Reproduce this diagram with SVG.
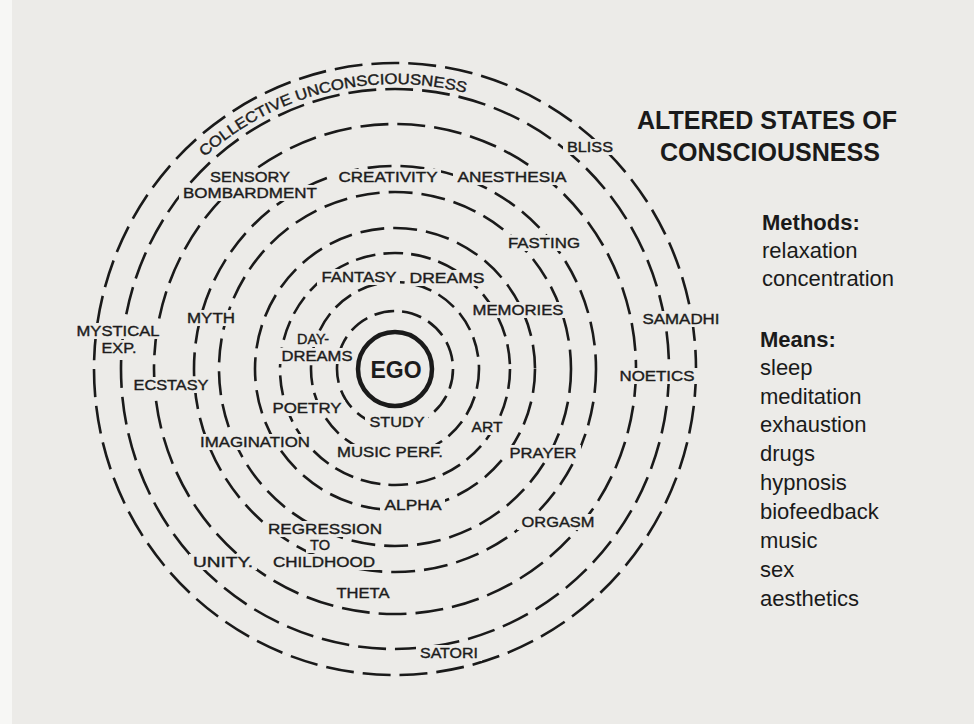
<svg xmlns="http://www.w3.org/2000/svg" width="974" height="724" viewBox="0 0 974 724">
<defs>
<style>
.bg{fill:#ecebe8}
.ring{fill:none;stroke:#1a1a1a;stroke-width:2.6;stroke-linecap:butt}
.in{stroke-dasharray:20 8}
.mid{stroke-dasharray:24 9}
.out{stroke-dasharray:28 9}
.lbl{font-family:"Liberation Sans",Arial,Helvetica,sans-serif;font-size:15.5px;fill:#1c1c1c;stroke:#1c1c1c;stroke-width:0.4;text-anchor:middle}
.ego{font-family:"Liberation Sans",Arial,Helvetica,sans-serif;font-size:23px;font-weight:bold;fill:#1c1c1c;text-anchor:middle}
.title{font-family:"Liberation Sans",Arial,Helvetica,sans-serif;font-size:25px;font-weight:bold;fill:#1a1a1a;text-anchor:middle}
.head{font-family:"Liberation Sans",Arial,Helvetica,sans-serif;font-size:22px;font-weight:bold;fill:#1a1a1a}
.item{font-family:"Liberation Sans",Arial,Helvetica,sans-serif;font-size:22px;fill:#1a1a1a}
</style>
<path id="arcCU" d="M176.7,185.8 A285,285 0 0,1 578.2,150.7"/>
<mask id="gaps" maskUnits="userSpaceOnUse" x="0" y="0" width="974" height="724">
<rect x="0" y="0" width="974" height="724" fill="#fff"/>
<g fill="#000">
<rect x="206" y="169" width="88" height="16"/>
<rect x="179" y="185" width="142" height="16"/>
<rect x="334" y="169" width="107" height="16"/>
<rect x="453" y="169" width="117" height="16"/>
<rect x="563" y="139" width="54" height="16"/>
<rect x="504" y="235" width="80" height="16"/>
<rect x="317" y="269" width="83" height="16"/>
<rect x="405" y="270" width="83" height="16"/>
<rect x="468" y="302" width="99" height="16"/>
<rect x="638" y="311" width="87" height="16"/>
<rect x="183" y="310" width="56" height="16"/>
<rect x="72" y="323" width="91" height="16"/>
<rect x="97" y="340" width="43" height="16"/>
<rect x="293" y="331" width="39" height="16"/>
<rect x="277" y="348" width="79" height="16"/>
<rect x="129" y="377" width="83" height="16"/>
<rect x="615" y="368" width="83" height="16"/>
<rect x="268" y="400" width="77" height="16"/>
<rect x="365" y="414" width="63" height="16"/>
<rect x="467" y="419" width="39" height="16"/>
<rect x="196" y="434" width="118" height="16"/>
<rect x="333" y="444" width="114" height="16"/>
<rect x="505" y="445" width="76" height="16"/>
<rect x="380" y="497" width="65" height="16"/>
<rect x="517" y="514" width="81" height="16"/>
<rect x="264" y="521" width="122" height="16"/>
<rect x="306" y="538" width="28" height="15"/>
<rect x="189" y="554" width="68" height="16"/>
<rect x="269" y="554" width="110" height="16"/>
<rect x="332" y="585" width="62" height="16"/>
<rect x="416" y="645" width="66" height="16"/>
</g>
</mask>
</defs>
<rect class="bg" x="0" y="0" width="974" height="724"/>
<rect x="0" y="0" width="12" height="724" fill="#f7f7f5"/>

<g id="rings" mask="url(#gaps)">
<ellipse class="ring in" cx="395" cy="369" rx="58" ry="58"/>
<ellipse class="ring in" cx="395" cy="369" rx="84" ry="87"/>
<ellipse class="ring in" cx="395" cy="369" rx="115" ry="116"/>
<ellipse class="ring mid" cx="395" cy="369" rx="140" ry="141"/>
<ellipse class="ring mid" cx="395" cy="369" rx="176" ry="177"/>
<ellipse class="ring mid" cx="395" cy="369" rx="201" ry="203"/>
<ellipse class="ring out" cx="395" cy="369" rx="241" ry="245"/>
<ellipse class="ring out" cx="395" cy="369" rx="274" ry="280"/>
<ellipse class="ring out" cx="395" cy="369" rx="301" ry="306"/>
</g>

<g id="ego">
<circle cx="395" cy="369" r="37" fill="#ecebe8" stroke="#1a1a1a" stroke-width="4.5"/>
<text class="ego" x="396" y="378">EGO</text>
</g>

<g id="collective"><text class="lbl" style="text-anchor:start;font-size:15px"><textPath href="#arcCU" startOffset="40" textLength="280" lengthAdjust="spacingAndGlyphs">COLLECTIVE UNCONSCIOUSNESS</textPath></text></g>
<g id="sensory"><text class="lbl" x="250" y="182" textLength="80" lengthAdjust="spacingAndGlyphs">SENSORY</text><text class="lbl" x="250" y="198" textLength="134" lengthAdjust="spacingAndGlyphs">BOMBARDMENT</text></g>
<g id="creativity"><text class="lbl" x="388" y="182" textLength="99" lengthAdjust="spacingAndGlyphs">CREATIVITY</text></g>
<g id="anesthesia"><text class="lbl" x="512" y="182" textLength="109" lengthAdjust="spacingAndGlyphs">ANESTHESIA</text></g>
<g id="bliss"><text class="lbl" x="590" y="152" textLength="46" lengthAdjust="spacingAndGlyphs">BLISS</text></g>
<g id="fasting"><text class="lbl" x="544" y="248" textLength="72" lengthAdjust="spacingAndGlyphs">FASTING</text></g>
<g id="fantasy"><text class="lbl" x="359" y="282" textLength="75" lengthAdjust="spacingAndGlyphs">FANTASY</text></g>
<g id="dreams"><text class="lbl" x="447" y="283" textLength="75" lengthAdjust="spacingAndGlyphs">DREAMS</text></g>
<g id="memories"><text class="lbl" x="518" y="315" textLength="91" lengthAdjust="spacingAndGlyphs">MEMORIES</text></g>
<g id="samadhi"><text class="lbl" x="681" y="324" textLength="77" lengthAdjust="spacingAndGlyphs">SAMADHI</text></g>
<g id="myth"><text class="lbl" x="211" y="323" textLength="48" lengthAdjust="spacingAndGlyphs">MYTH</text></g>
<g id="mystical"><text class="lbl" x="118" y="336" textLength="83" lengthAdjust="spacingAndGlyphs">MYSTICAL</text><text class="lbl" x="119" y="353" textLength="35" lengthAdjust="spacingAndGlyphs">EXP.</text></g>
<g id="daydreams"><text class="lbl" x="313" y="344" textLength="32" lengthAdjust="spacingAndGlyphs">DAY-</text><text class="lbl" x="317" y="361" textLength="71" lengthAdjust="spacingAndGlyphs">DREAMS</text></g>
<g id="ecstasy"><text class="lbl" x="171" y="390" textLength="75" lengthAdjust="spacingAndGlyphs">ECSTASY</text></g>
<g id="noetics"><text class="lbl" x="657" y="381" textLength="75" lengthAdjust="spacingAndGlyphs">NOETICS</text></g>
<g id="poetry"><text class="lbl" x="307" y="413" textLength="69" lengthAdjust="spacingAndGlyphs">POETRY</text></g>
<g id="study"><text class="lbl" x="397" y="427" textLength="55" lengthAdjust="spacingAndGlyphs">STUDY</text></g>
<g id="art"><text class="lbl" x="487" y="432" textLength="31" lengthAdjust="spacingAndGlyphs">ART</text></g>
<g id="imagination"><text class="lbl" x="255" y="447" textLength="110" lengthAdjust="spacingAndGlyphs">IMAGINATION</text></g>
<g id="musicperf"><text class="lbl" x="390" y="457" textLength="106" lengthAdjust="spacingAndGlyphs">MUSIC PERF.</text></g>
<g id="prayer"><text class="lbl" x="543" y="458" textLength="67" lengthAdjust="spacingAndGlyphs">PRAYER</text></g>
<g id="alpha"><text class="lbl" x="413" y="510" textLength="57" lengthAdjust="spacingAndGlyphs">ALPHA</text></g>
<g id="orgasm"><text class="lbl" x="558" y="527" textLength="73" lengthAdjust="spacingAndGlyphs">ORGASM</text></g>
<g id="regression"><text class="lbl" x="325" y="534" textLength="114" lengthAdjust="spacingAndGlyphs">REGRESSION</text><text class="lbl" x="320" y="550" textLength="20" lengthAdjust="spacingAndGlyphs">TO</text><text class="lbl" x="324" y="567" textLength="102" lengthAdjust="spacingAndGlyphs">CHILDHOOD</text></g>
<g id="unity"><text class="lbl" x="223" y="567" textLength="60" lengthAdjust="spacingAndGlyphs">UNITY.</text></g>
<g id="theta"><text class="lbl" x="363" y="598" textLength="53" lengthAdjust="spacingAndGlyphs">THETA</text></g>
<g id="satori"><text class="lbl" x="449" y="658" textLength="58" lengthAdjust="spacingAndGlyphs">SATORI</text></g>

<g id="title">
<text class="title" x="767" y="129" textLength="260" lengthAdjust="spacingAndGlyphs">ALTERED STATES OF</text>
<text class="title" x="770" y="161" textLength="220" lengthAdjust="spacingAndGlyphs">CONSCIOUSNESS</text>
</g>
<g id="methods">
<text class="head" x="762" y="230">Methods:</text>
<text class="item" x="762" y="258">relaxation</text>
<text class="item" x="762" y="286">concentration</text>
</g>
<g id="means">
<text class="head" x="760" y="347">Means:</text>
<text class="item" x="760" y="375">sleep</text>
<text class="item" x="760" y="404">meditation</text>
<text class="item" x="760" y="432">exhaustion</text>
<text class="item" x="760" y="461">drugs</text>
<text class="item" x="760" y="490">hypnosis</text>
<text class="item" x="760" y="519">biofeedback</text>
<text class="item" x="760" y="548">music</text>
<text class="item" x="760" y="577">sex</text>
<text class="item" x="760" y="606">aesthetics</text>
</g>
</svg>
